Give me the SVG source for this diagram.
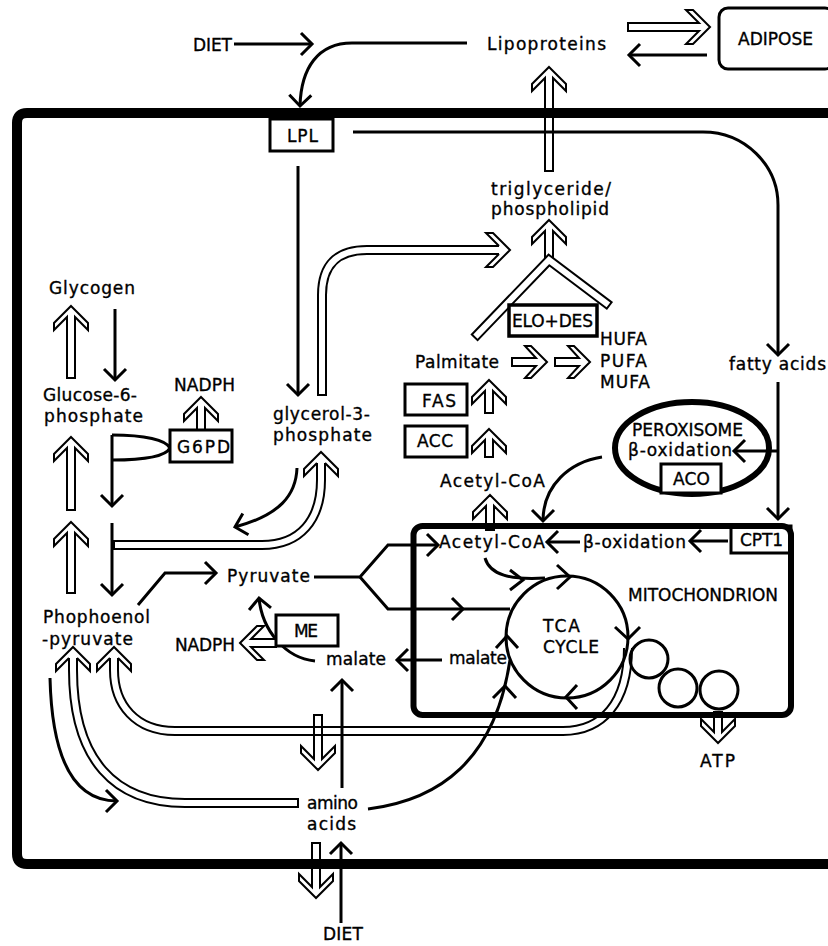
<svg xmlns="http://www.w3.org/2000/svg" width="828" height="946" viewBox="0 0 828 946">
<defs>
<marker id="ah" markerUnits="userSpaceOnUse" markerWidth="30" markerHeight="30" viewBox="-15 -15 30 30" refX="0" refY="0" orient="auto"><path d="M-11,-11 L0,0 L-11,11" fill="none" stroke="#000" stroke-width="3"/></marker>
</defs>
<style>
.t{font-family:"DejaVu Sans","Liberation Sans",sans-serif;font-size:17px;fill:#000;stroke:#000;stroke-width:0.35}
.ln{fill:none;stroke:#000;stroke-width:3}
.ar{fill:none;stroke:#000;stroke-width:3;marker-end:url(#ah)}
.box{fill:#fff;stroke:#000;stroke-width:3}
.ho{fill:none;stroke:#000;stroke-width:2}
.hd{fill:#fff;stroke:#000;stroke-width:2}
.dlb{fill:none;stroke:#000;stroke-width:10}
.dlw{fill:none;stroke:#fff;stroke-width:6}
</style>
<rect width="828" height="946" fill="#fff"/>
<g id="connectors">
<path class="dlb" d="M322,396 V295 Q322,250 367,250 H499"/>
<path class="dlw" d="M322,394 V295 Q322,250 367,250 H499"/>
<path class="dlb" d="M112,545 H262 C300,545 321,520 321,480 V463"/>
<path class="dlw" d="M115,545 H262 C300,545 321,520 321,480 V463"/>
<path class="dlb" d="M628,648 C628,703 602,731 563,731 H175 C136,731 114,705 114,670 V658"/>
<path class="dlw" d="M628,648 C628,703 602,731 563,731 H175 C136,731 114,705 114,670 V658"/>
<path class="dlb" d="M299,803 H185 C115,803 73,760 73,670 V658"/>
<path class="dlw" d="M297,803 H185 C115,803 73,760 73,670 V658"/>
<path class="ho" transform="translate(549,220)" d="M0,0 L17,17 L17,24 L4,11 V42 H-4 V11 L-17,24 L-17,17 Z"/>
<path class="dlb" d="M474,338 L549,260 L610,306"/>
<path class="dlw" d="M475.4,336.6 L549,260 L608.4,304.8"/>
<path class="hd" transform="translate(321,452)" d="M4,11 L17,24 L17,17 L0,0 L-17,17 L-17,24 L-4,11"/>
<path class="hd" transform="translate(510,250) rotate(90)" d="M4,11 L17,24 L17,17 L0,0 L-17,17 L-17,24 L-4,11"/>
<path class="hd" transform="translate(73,647)" d="M4,11 L17,24 L17,17 L0,0 L-17,17 L-17,24 L-4,11"/>
<path class="hd" transform="translate(114,647)" d="M4,11 L17,24 L17,17 L0,0 L-17,17 L-17,24 L-4,11"/>
<path class="ho" transform="translate(549,67)" d="M0,0 L17,17 L17,24 L4,11 V104 H-4 V11 L-17,24 L-17,17 Z"/>
<path class="ho" transform="translate(71,306)" d="M0,0 L17,17 L17,24 L4,11 V72 H-4 V11 L-17,24 L-17,17 Z"/>
<path class="ho" transform="translate(71,437)" d="M0,0 L17,17 L17,24 L4,11 V73 H-4 V11 L-17,24 L-17,17 Z"/>
<path class="ho" transform="translate(71,522)" d="M0,0 L17,17 L17,24 L4,11 V71 H-4 V11 L-17,24 L-17,17 Z"/>
<path class="ho" transform="translate(201,397)" d="M0,0 L17,17 L17,24 L4,11 V33 H-4 V11 L-17,24 L-17,17 Z"/>
<path class="ho" transform="translate(489,380)" d="M0,0 L17,17 L17,24 L4,11 V33 H-4 V11 L-17,24 L-17,17 Z"/>
<path class="ho" transform="translate(489,429)" d="M0,0 L17,17 L17,24 L4,11 V28 H-4 V11 L-17,24 L-17,17 Z"/>
<path class="ho" transform="translate(490,495)" d="M0,0 L17,17 L17,24 L4,11 V35 H-4 V11 L-17,24 L-17,17 Z"/>
<path class="ho" transform="translate(547,362) rotate(90)" d="M0,0 L16,16 L16,22 L4,11 V35 H-4 V11 L-16,22 L-16,16 Z"/>
<path class="ho" transform="translate(590,362) rotate(90)" d="M0,0 L16,16 L16,22 L4,11 V35 H-4 V11 L-16,22 L-16,16 Z"/>
<path class="ho" transform="translate(240,643) rotate(-90)" d="M0,0 L17,17 L17,24 L4,11 V36 H-4 V11 L-17,24 L-17,17 Z"/>
<path class="ho" transform="translate(318,770) rotate(180)" d="M0,0 L17,17 L17,24 L4,11 V55 H-4 V11 L-17,24 L-17,17 Z"/>
<path class="ho" transform="translate(316,898) rotate(180)" d="M0,0 L17,17 L17,24 L4,11 V55 H-4 V11 L-17,24 L-17,17 Z"/>
<path class="ho" transform="translate(718,743) rotate(180)" d="M0,0 L17,17 L17,24 L4,11 V31 H-4 V11 L-17,24 L-17,17 Z"/>
<path class="ho" transform="translate(710,27) rotate(90)" d="M0,0 L17,17 L17,24 L4,11 V82 H-4 V11 L-17,24 L-17,17 Z"/>
<path class="ar" d="M234,44 H312"/>
<path class="ar" d="M467,43 H352 C318,43 301,68 300,106"/>
<path class="ar" d="M707,55 H629"/>
<path class="ar" d="M353,132 H703 A75,73 0 0 1 778,205 V355"/>
<path class="ar" d="M298,166 V395"/>
<path class="ar" d="M778,382 V519"/>
<path class="ar" d="M778,451 H734"/>
<path class="ar" d="M602,457 C570,462 543,485 543,521"/>
<path class="ar" d="M728,541 H690"/>
<path class="ar" d="M580,542 H547"/>
<path class="ar" d="M115,309 V380"/>
<path class="ln" d="M112,460 C145,460 166,456 170,448 C166,440 145,435 112,435"/>
<path class="ar" d="M112,435 V506"/>
<path class="ar" d="M112,523 V595"/>
<path class="ar" d="M138,605 L165,573 H216"/>
<path class="ar" d="M314,577 H360 L388,545 H438"/>
<path class="ln" d="M360,577 L388,609 H510"/>
<path class="ln" d="M452,598 L463,609 L452,620"/>
<path class="ar" d="M297,468 C296,495 280,515 235,527"/>
<path class="ln" d="M485,558 C490,575 510,580 545,578"/>
<path class="ln" d="M510,570 L523,580 L510,590"/>
<path class="ar" d="M442,660 H397"/>
<path class="ar" d="M315,661 C285,658 262,630 259,598"/>
<path class="ar" d="M342,788 V680"/>
<path class="ln" d="M368,809 C440,800 495,760 510,660"/>
<path class="ln" d="M493,698 L505,686 L516,698"/>
<path class="ar" d="M50,678 C52,760 75,801 117,801"/>
<path class="ar" d="M341,923 V843"/>
</g>
<g id="cell"><path d="M830,113 H27 Q17,113 17,123 V854 Q17,864 27,864 H830" fill="none" stroke="#000" stroke-width="10"/></g>
<g id="diet-top"><text class="t" x="193" y="51" textLength="39">DIET</text></g>
<g id="lipoproteins"><text class="t" x="487" y="50" textLength="119">Lipoproteins</text></g>
<g id="adipose"><rect x="719" y="8" width="115" height="61" rx="9" fill="none" stroke="#000" stroke-width="3"/><text class="t" x="738" y="45" textLength="75">ADIPOSE</text></g>
<g id="lpl"><rect class="box" x="270" y="119" width="63" height="32"/><text class="t" x="287" y="142" textLength="31">LPL</text></g>
<g id="triglyceride"><text class="t" x="491" y="195" textLength="120">triglyceride/</text><text class="t" x="491" y="215" textLength="118">phospholipid</text></g>
<g id="glycogen"><text class="t" x="49" y="294" textLength="86">Glycogen</text></g>
<g id="elo-des"><rect class="box" x="509" y="305" width="88" height="31" style="stroke-width:3.5"/><text class="t" x="512" y="327" textLength="81">ELO+DES</text></g>
<g id="hufa"><text class="t" x="600" y="345" textLength="47">HUFA</text><text class="t" x="600" y="367" textLength="47">PUFA</text><text class="t" x="600" y="388" textLength="50">MUFA</text></g>
<g id="palmitate"><text class="t" x="415" y="368" textLength="84">Palmitate</text></g>
<g id="fatty-acids"><text class="t" x="729" y="370" textLength="97">fatty acids</text></g>
<g id="nadph-top"><text class="t" x="174" y="391" textLength="61">NADPH</text></g>
<g id="g6p"><text class="t" x="43" y="401" textLength="94">Glucose-6-</text><text class="t" x="44" y="422" textLength="99">phosphate</text></g>
<g id="fas"><rect class="box" x="405" y="384" width="62" height="31"/><text class="t" x="422" y="407" textLength="34">FAS</text></g>
<g id="acc"><rect class="box" x="405" y="426" width="62" height="31"/><text class="t" x="417" y="447" textLength="36">ACC</text></g>
<g id="g6pd"><rect class="box" x="170" y="430" width="62" height="32"/><text class="t" x="177" y="453" textLength="53">G6PD</text></g>
<g id="glycerol"><text class="t" x="273" y="420" textLength="97">glycerol-3-</text><text class="t" x="273" y="441" textLength="99">phosphate</text></g>
<g id="peroxisome"><ellipse cx="692" cy="448" rx="77" ry="46" fill="none" stroke="#000" stroke-width="6"/><text class="t" x="632" y="436" textLength="111">PEROXISOME</text><text class="t" x="628" y="456" textLength="104">β-oxidation</text></g>
<g id="aco"><rect class="box" x="661" y="464" width="60" height="29"/><text class="t" x="673" y="485" textLength="37">ACO</text></g>
<g id="acetyl-coa-cyto"><text class="t" x="440" y="487" textLength="105">Acetyl-CoA</text></g>
<g id="cpt1"><rect class="box" x="731" y="526" width="60" height="27"/><text class="t" x="740" y="546" textLength="43">CPT1</text></g>
<g id="mitochondrion"><rect x="413.5" y="526" width="377.5" height="189" rx="9" fill="none" stroke="#000" stroke-width="6"/><text class="t" x="628" y="601" textLength="150" lengthAdjust="spacingAndGlyphs">MITOCHONDRION</text></g>
<g id="acetyl-coa-mito"><text class="t" x="439" y="548" textLength="106">Acetyl-CoA</text></g>
<g id="beta-ox-mito"><text class="t" x="583" y="548" textLength="103">β-oxidation</text></g>
<g id="tca"><circle cx="567" cy="637" r="61" fill="none" stroke="#000" stroke-width="3"/>
<path class="ln" d="M557,565 L570,577 L557,589"/><path class="ln" d="M615,627 L628,639 L640,627"/><path class="ln" d="M577,685 L566,697 L577,709"/><path class="ln" d="M496,648 L507,636 L518,648"/>
<text class="t" x="543" y="632" textLength="37">TCA</text><text class="t" x="543" y="653" textLength="56">CYCLE</text></g>
<g id="etc"><circle cx="649" cy="659" r="19" fill="none" stroke="#000" stroke-width="3"/><circle cx="678" cy="688" r="19" fill="none" stroke="#000" stroke-width="3"/><circle cx="719" cy="690" r="19" fill="none" stroke="#000" stroke-width="3"/></g>
<g id="atp"><text class="t" x="700" y="767" textLength="35">ATP</text></g>
<g id="pyruvate"><text class="t" x="227" y="582" textLength="83">Pyruvate</text></g>
<g id="pep"><text class="t" x="43" y="623" textLength="107">Phophoenol</text><text class="t" x="42" y="645" textLength="91">-pyruvate</text></g>
<g id="me"><rect class="box" x="276" y="615" width="62" height="31"/><text class="t" x="294" y="637" textLength="24">ME</text></g>
<g id="nadph-left"><text class="t" x="175" y="651" textLength="60">NADPH</text></g>
<g id="malate-cyto"><text class="t" x="326" y="665" textLength="60">malate</text></g>
<g id="malate-mito"><text class="t" x="449" y="664" textLength="58">malate</text></g>
<g id="amino-acids"><text class="t" x="307" y="809" textLength="51">amino</text><text class="t" x="307" y="830" textLength="49">acids</text></g>
<g id="diet-bottom"><text class="t" x="323" y="940" textLength="40">DIET</text></g>
</svg>
